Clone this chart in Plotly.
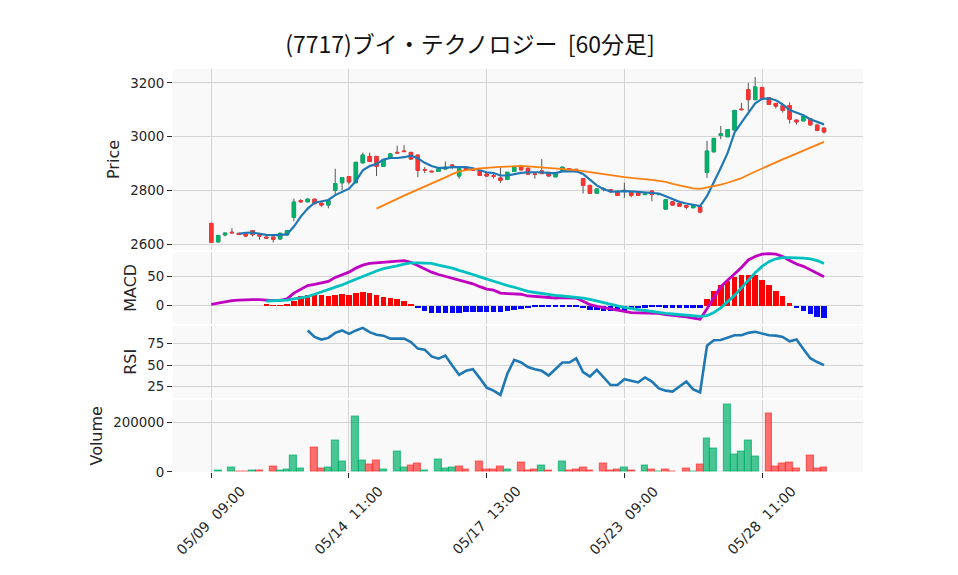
import plotly.graph_objects as go
from plotly.subplots import make_subplots

# ---- data (7717, 60-minute bars) ----
days = ["05/09", "05/10", "05/13", "05/14", "05/15", "05/16", "05/17", "05/20",
        "05/21", "05/22", "05/23", "05/24", "05/27", "05/28", "05/29"]
sessions = ["09:00", "10:00", "11:00", "12:30", "13:00", "14:00"]
labels = [f"{d} {t}" for d in days for t in sessions]

open_ = [2678, 2609, 2635, 2645, 2641, 2639, 2651, 2636, 2627, 2627,
         2620, 2635, 2700, 2763, 2758, 2768, 2753, 2746, 2801, 2829,
         2852, 2829, 2903, 2927, 2927, 2890, 2921, 2942, 2947, 2942,
         2932, 2878, 2872, 2871, 2880, 2895, 2854, 2884, 2876, 2873,
         2862, 2855, 2847, 2841, 2871, 2891, 2883, 2862, 2873, 2868,
         2851, 2871, 2881, 2879, 2844, 2819, 2790, 2806, 2803, 2797,
         2801, 2792, 2791, 2785, 2798, 2785, 2731, 2758, 2752, 2744,
         2736, 2740, 2867, 2944, 3005, 3000, 3025, 3103, 3175, 3138,
         3183, 3145, 3124, 3116, 3116, 3062, 3059, 3067, 3043, 3032]
high = [2680, 2634, 2643, 2660, 2642, 2645, 2653, 2637, 2630, 2628,
        2643, 2652, 2770, 2768, 2770, 2769, 2754, 2764, 2881, 2850,
        2853, 2906, 2941, 2941, 2928, 2915, 2940, 2967, 2969, 2943,
        2933, 2887, 2874, 2882, 2908, 2899, 2882, 2886, 2877, 2874,
        2863, 2862, 2887, 2869, 2888, 2893, 2884, 2863, 2917, 2869,
        2864, 2888, 2883, 2880, 2845, 2822, 2807, 2812, 2804, 2798,
        2829, 2793, 2792, 2787, 2800, 2787, 2767, 2759, 2753, 2745,
        2747, 2741, 2985, 2995, 3040, 3028, 3099, 3126, 3200, 3222,
        3186, 3146, 3125, 3117, 3128, 3063, 3076, 3068, 3049, 3035]
low = [2607, 2608, 2630, 2641, 2636, 2628, 2629, 2617, 2621, 2607,
       2618, 2633, 2686, 2755, 2756, 2750, 2740, 2734, 2782, 2801,
       2823, 2828, 2902, 2906, 2854, 2888, 2920, 2938, 2944, 2915,
       2850, 2865, 2868, 2870, 2879, 2880, 2844, 2876, 2874, 2855,
       2852, 2845, 2828, 2839, 2870, 2875, 2860, 2844, 2862, 2853,
       2850, 2870, 2879, 2866, 2789, 2789, 2788, 2797, 2793, 2780,
       2773, 2775, 2781, 2783, 2760, 2783, 2730, 2745, 2741, 2730,
       2735, 2715, 2847, 2943, 2991, 2999, 3024, 3098, 3096, 3137,
       3140, 3118, 3105, 3090, 3049, 3045, 3058, 3043, 3020, 3012]
close = [2607, 2633, 2642, 2643, 2637, 2631, 2636, 2631, 2623, 2619,
         2641, 2651, 2757, 2758, 2768, 2751, 2746, 2763, 2826, 2848,
         2832, 2905, 2932, 2908, 2890, 2914, 2936, 2940, 2945, 2917,
         2875, 2876, 2870, 2881, 2887, 2893, 2881, 2878, 2875, 2856,
         2854, 2853, 2838, 2868, 2887, 2877, 2861, 2860, 2863, 2854,
         2863, 2887, 2880, 2878, 2819, 2790, 2806, 2804, 2795, 2782,
         2799, 2782, 2782, 2787, 2785, 2786, 2766, 2746, 2742, 2738,
         2746, 2720, 2947, 2994, 3011, 3027, 3098, 3101, 3138, 3185,
         3142, 3120, 3114, 3098, 3065, 3055, 3075, 3044, 3024, 3018]

ma_short = [None] * 4 + [
    2639, 2643, 2644, 2640, 2635, 2634, 2634, 2638, 2666, 2703,
    2733, 2755, 2760, 2765, 2783, 2795, 2807, 2835, 2875, 2891,
    2899, 2915, 2921, 2921, 2924, 2930, 2920, 2903, 2891, 2884,
    2884, 2887, 2887, 2887, 2883, 2875, 2868, 2865, 2856, 2856,
    2862, 2866, 2868, 2868, 2868, 2865, 2865, 2871, 2872, 2872,
    2862, 2841, 2819, 2805, 2797, 2796, 2798, 2797, 2795, 2791,
    2791, 2789, 2779, 2768, 2758, 2752, 2748, 2742, 2779, 2829,
    2884, 2940, 3015, 3053, 3087, 3124, 3141, 3143, 3136, 3120,
    3099, 3089, 3080, 3065, 3055, 3046]
ma_long = [None] * 24 + [
    2733, 2744, 2755, 2769, 2781, 2792, 2804, 2813, 2825, 2836,
    2849, 2861, 2871, 2876, 2880, 2882, 2884, 2887, 2888, 2889,
    2890, 2892, 2890, 2888, 2887, 2886, 2883, 2881, 2879, 2876,
    2872, 2868, 2865, 2861, 2857, 2854, 2850, 2847, 2845, 2842,
    2840, 2836, 2832, 2825, 2819, 2813, 2808, 2806, 2811, 2816,
    2822, 2829, 2838, 2846, 2859, 2871, 2883, 2894, 2905, 2916,
    2927, 2938, 2948, 2958, 2969, 2981]

macd = [1.7, 4, 6, 8, 9, 9.7, 9.7, 9.7, 8.5, 8,
        8.5, 11, 21, 28, 34, 36, 38, 41, 48, 53,
        57, 64, 69, 72, 73, 73, 75, 76, 77, 74,
        68, 63, 57, 53, 50, 47, 44, 40, 37, 32,
        28, 26, 21, 20, 19, 19, 16, 15, 14, 12.5,
        12.5, 13, 13, 12.5, 7, 1, -2, -4, -7, -9,
        -11, -12.5, -13, -13, -14, -14, -16, -17, -19, -20,
        -22, -24, -6, 14, 32, 43, 54, 65, 78, 84,
        88, 89, 88, 84, 77, 71, 67, 61, 56, 49]
signal = [None] * 8 + [
    7.4, 8, 8.5, 9, 11, 13, 15, 19, 23, 26,
    30, 35, 40, 45, 50, 55, 59, 63, 65, 68,
    71, 73, 73, 73, 72, 69, 67, 64, 60, 57,
    53, 49, 45, 42, 38, 34, 31, 27, 24, 22,
    20, 18, 17, 16, 15, 14, 12.5, 10, 7, 4.5,
    2, -1, -3.4, -6, -7.4, -9, -11, -12.5, -14, -15,
    -16, -17, -18, -19, -18, -12.5, -4.5, 6, 17, 30,
    43, 56, 67, 75, 80, 82, 82, 82, 81, 80,
    77, 72]
hist = [None] * 8 + [
    2, 0.3, 0.3, 2, 8.5, 16, 18, 19, 18, 17,
    19, 20, 18, 22, 24, 22, 18, 15, 13, 11,
    8, 3, -4, -9, -13, -13, -13, -13, -13, -11,
    -11, -11, -11, -11, -11, -9, -7, -6, -4, -3,
    -3, -2, -1, -1, -1, -2, -4.5, -7, -8, -8.5,
    -9, -9, -8.5, -6, -4, -3.4, -3, -3, -3.4, -3.4,
    -3.4, -3.4, -3.4, -3.4, 11, 25, 35, 42, 49, 52,
    53, 53, 44, 35, 25, 16, 4.5, -4, -8.5, -14,
    -19, -21]

rsi = [None] * 14 + [
    90, 82.6, 79.5, 81.4, 87.2, 90, 86, 90, 93, 88,
    85, 84, 80.6, 80.6, 80.6, 76.7, 69, 67.8, 60, 57.4,
    61, 49.6, 38.8, 43.4, 45.3, 35, 24, 20.5, 15.5, 40,
    56, 53, 47.7, 45.3, 43.4, 38, 45.3, 53, 53, 57.8,
    42, 36.8, 44.6, 35.7, 27, 27, 33.7, 32, 30, 35.7,
    31, 23, 20.5, 19.4, 25, 31, 22, 18.6, 72.5, 78.7,
    79, 81.4, 84.5, 84.5, 87.2, 88.4, 86, 84.5, 84, 82.6,
    77.5, 79.5, 68.6, 58, 53.5, 50]

volume = [None, 4000, None, 16000, 1500, 1500, 4000, 4000, None, 20500,
          4000, 8000, 66000, 12000, None, 99000, 12000, 16000, 127000, 41000,
          None, 222000, 45000, 29000, 45000, 8000, None, 82000, 16000, 25000,
          33000, 4000, None, 49000, 12000, 16000, 20500, 8000, None, 41000,
          8000, 8000, 20500, 8000, None, 37000, 4000, 8000, 25000, 4000,
          None, 41000, 4000, 8000, 16000, 4000, None, 33000, 4000, 8000,
          16000, 4000, None, 25000, 8000, 1000, 8000, 1500, None, 12000,
          1000, 29000, 136000, 95000, None, 271000, 70000, 82000, 127000, 62000,
          None, 234000, 20500, 33000, 37000, 12000, None, 66000, 12000, 16000]

title_text = "(7717)ブイ・テクノロジー \u00a0[60分足]"

UP = "rgb(0,177,106)"
DOWN = "rgb(255,51,51)"
GRID = "#d4d4d4"
FONT = "DejaVu Sans, sans-serif"
TXT = "#262626"

body_hi = [max(o, c) for o, c in zip(open_, close)]
body_lo = [min(o, c) for o, c in zip(open_, close)]
vol_up = [True] + [close[i] >= close[i - 1] for i in range(1, len(close))]
vol_fill = ["rgba(0,177,106,0.7)" if u else "rgba(255,51,51,0.7)" for u in vol_up]
hist_col = ["#ff0000" if (h is not None and h >= 0) else "#0000ff" for h in hist]

fig = make_subplots(rows=4, cols=1, shared_xaxes=True, vertical_spacing=0.004,
                    row_heights=[2.5, 1, 1, 1])

# wicks (grey) underneath the coloured bodies
fig.add_trace(go.Candlestick(
    x=labels, open=open_, high=high, low=low, close=close,
    increasing=dict(line=dict(color="#555555", width=1), fillcolor="#555555"),
    decreasing=dict(line=dict(color="#555555", width=1), fillcolor="#555555"),
    hoverinfo="skip",
), row=1, col=1)
fig.add_trace(go.Candlestick(
    x=labels, open=open_, high=body_hi, low=body_lo, close=close,
    increasing=dict(line=dict(color=UP, width=1), fillcolor=UP),
    decreasing=dict(line=dict(color=DOWN, width=1), fillcolor=DOWN),
), row=1, col=1)
fig.add_trace(go.Scatter(x=labels, y=ma_short, mode="lines",
                         line=dict(color="#1f77b4", width=2.2)), row=1, col=1)
fig.add_trace(go.Scatter(x=labels, y=ma_long, mode="lines",
                         line=dict(color="#ff7f0e", width=1.8)), row=1, col=1)

fig.add_trace(go.Bar(x=labels, y=hist, marker=dict(color=hist_col, line=dict(width=0)),
                     width=0.8), row=2, col=1)
fig.add_trace(go.Scatter(x=labels, y=macd, mode="lines",
                         line=dict(color="#c000c0", width=2.8)), row=2, col=1)
fig.add_trace(go.Scatter(x=labels, y=signal, mode="lines",
                         line=dict(color="#00c0c0", width=2.8)), row=2, col=1)

fig.add_trace(go.Scatter(x=labels, y=rsi, mode="lines",
                         line=dict(color="#1f77b4", width=2.6)), row=3, col=1)

fig.add_trace(go.Bar(x=labels, y=volume, width=1.0,
                     marker=dict(color=vol_fill, line=dict(color=vol_fill, width=1.2))),
              row=4, col=1)

# the page sits 8px in from the window corner, so margins are offset by that
fig.update_layout(
    width=958, height=575,
    margin=dict(l=165, r=103, t=61, b=111),
    title=dict(text=title_text, x=462 / 958, xref="container", xanchor="center",
               y=1 - 37 / 575, yanchor="middle",
               font=dict(family="Noto Sans CJK JP", size=23, color="#111")),
    font=dict(family=FONT, size=13.4, color=TXT),
    paper_bgcolor="white",
    plot_bgcolor="#f9f9f9",
    showlegend=False,
    bargap=0,
)

fig.update_xaxes(type="category", range=[-5.56, 94.66], showgrid=True, gridcolor=GRID,
                 tickvals=labels[::20], ticks="", showticklabels=False,
                 rangeslider_visible=False)
fig.update_xaxes(ticks="outside", ticklen=5, tickcolor=TXT, row=4, col=1)

# rotated date labels centred under their ticks
for lab in labels[::20]:
    fig.add_annotation(x=lab, y=0, xref="x4", yref="paper",
                       text=lab.replace(" ", "\u00a0\u00a0"),
                       textangle=-45, showarrow=False, xanchor="center",
                       yanchor="top", yshift=-8,
                       font=dict(family=FONT, size=14, color=TXT))

fig.update_yaxes(showgrid=True, gridcolor=GRID, zeroline=False, ticks="outside",
                 ticklen=5, tickcolor=TXT, title_standoff=6)
fig.update_yaxes(title_text="Price", range=[2579, 3252], dtick=200, row=1, col=1)
fig.update_yaxes(title_text="MACD", range=[-32.2, 92.4], dtick=50, row=2, col=1)
fig.update_yaxes(title_text="RSI", range=[12, 95.6], dtick=25, row=3, col=1)
fig.update_yaxes(title_text="Volume", range=[0, 292000], dtick=200000,
                 tickformat="d", row=4, col=1)

fig.write_html("out.html")
